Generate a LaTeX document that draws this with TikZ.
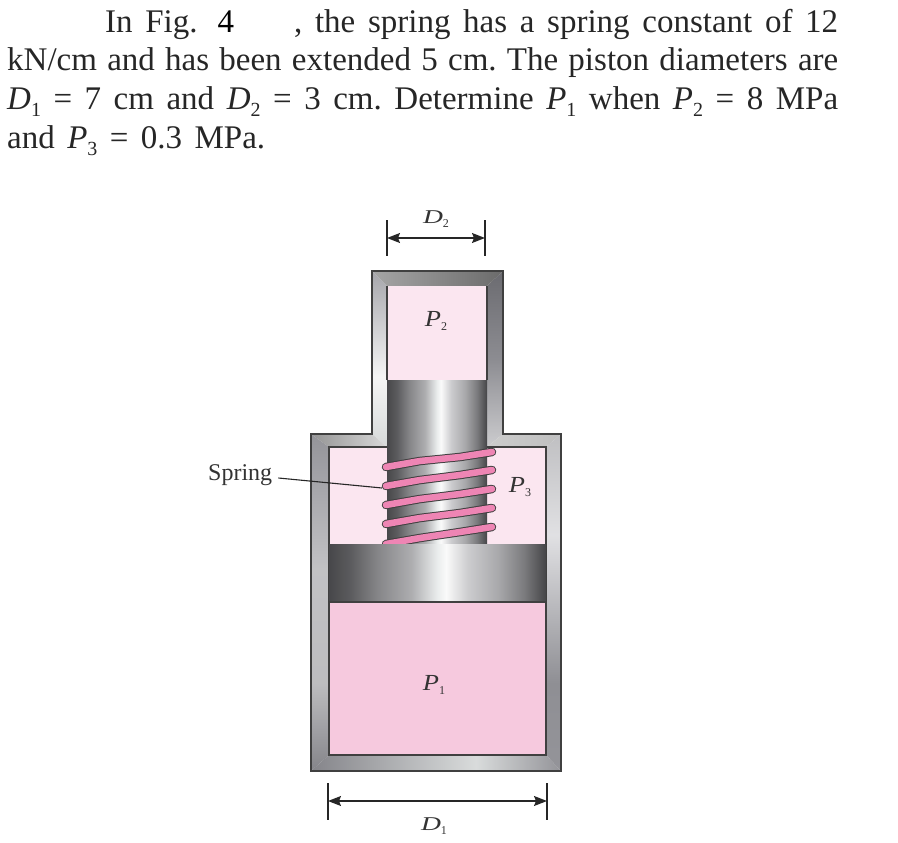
\documentclass[tikz,border=0pt]{standalone}
\usepackage{fontspec}
\setmainfont{Liberation Serif}
\usetikzlibrary{arrows.meta}
\frenchspacing
\newcommand{\sbb}[1]{\raisebox{-7pt}{\fontsize{20}{20}\selectfont #1}}
\newcommand{\dsub}[1]{\raisebox{-4.5pt}{\fontsize{12}{12}\selectfont\upshape #1}}
\newcommand{\mainfs}{\fontsize{33}{38}\selectfont}
\pgfdeclarehorizontalshading{metal}{100bp}{rgb(0bp)=(.28,.28,.29);rgb(25bp)=(.28,.28,.29);rgb(30bp)=(.36,.36,.37);rgb(36bp)=(.52,.52,.53);rgb(44bp)=(.68,.68,.69);rgb(50bp)=(.92,.93,.93);rgb(52bp)=(.98,.98,.98);rgb(57bp)=(.8,.8,.81);rgb(64bp)=(.66,.66,.67);rgb(70bp)=(.48,.48,.49);rgb(75bp)=(.27,.27,.28);rgb(100bp)=(.27,.27,.28)}
\pgfdeclareverticalshading{nl}{100bp}{rgb(0bp)=(.84,.85,.85);rgb(25bp)=(.84,.85,.85);rgb(45bp)=(.96,.96,.96);rgb(75bp)=(.65,.65,.67);rgb(100bp)=(.65,.65,.67)}
\pgfdeclareverticalshading{nr}{100bp}{rgb(0bp)=(.8,.8,.81);rgb(25bp)=(.8,.8,.81);rgb(50bp)=(.55,.55,.57);rgb(75bp)=(.42,.42,.44);rgb(100bp)=(.42,.42,.44)}
\pgfdeclareverticalshading{cl}{100bp}{rgb(0bp)=(.52,.52,.54);rgb(25bp)=(.52,.52,.54);rgb(38bp)=(.74,.74,.75);rgb(55bp)=(.76,.76,.77);rgb(75bp)=(.58,.58,.6);rgb(100bp)=(.58,.58,.6)}
\pgfdeclareverticalshading{cr}{100bp}{rgb(0bp)=(.58,.58,.6);rgb(25bp)=(.58,.58,.6);rgb(38bp)=(.56,.56,.58);rgb(60bp)=(.88,.88,.89);rgb(75bp)=(.75,.75,.76);rgb(100bp)=(.75,.75,.76)}
\pgfdeclarehorizontalshading{cb}{100bp}{rgb(0bp)=(.52,.52,.54);rgb(25bp)=(.52,.52,.54);rgb(58bp)=(.85,.86,.86);rgb(75bp)=(.58,.58,.6);rgb(100bp)=(.58,.58,.6)}
\tikzset{
  txt/.style={inner sep=0pt,anchor=base west,text=black!85},
  lbl/.style={inner sep=0pt,text=black!80,font=\fontsize{23}{23}\selectfont\itshape},
  dimline/.style={draw=black!85,line width=1.3pt},
  dimarrow/.style={draw=black!85,line width=1.3pt,{Stealth[length=13pt,width=10pt,inset=2pt]}-{Stealth[length=13pt,width=10pt,inset=2pt]}},
  outl/.style={draw=black!75,line width=1.3pt},
  inl/.style={draw=black!75,line width=1.2pt},
  coilo/.style={draw=black!75,line width=8.5pt,line cap=round},
  coili/.style={draw=coilpink,line width=6.5pt,line cap=round},
}
\definecolor{lightpink}{HTML}{FBE6F0}
\definecolor{midpink}{HTML}{F6C9DE}
\definecolor{coilpink}{HTML}{EE85B4}
\begin{document}
\begin{tikzpicture}[x=1pt,y=-1pt]
\path[use as bounding box] (0,0) rectangle (898,843);
% text
\node[txt] (l1) at (105,33) {\mainfs\hbox to 733pt{In Fig.\hskip 20pt \textcolor{black}{4}\hskip 60pt, the spring has a spring constant of 12}};
\node[txt] (l2) at (7,71) {\mainfs\hbox to 831pt{kN/cm and has been extended 5 cm. The piston diameters are}};
\node[txt] (l3) at (7,110) {\mainfs\hbox to 831pt{\textit{D}\sbb{1} = 7 cm and \textit{D}\sbb{2} = 3 cm. Determine \textit{P}\sbb{1} when \textit{P}\sbb{2} = 8 MPa}};
\node[txt] (l4) at (7,149) {\mainfs\hbox to 258pt{and \textit{P}\sbb{3} = 0.3 MPa.}};
% walls
\shade[shading=nl] (372,271) -- (387,286) -- (387,447) -- (372,434) -- cycle;
\shade[shading=nr] (503,271) -- (487,286) -- (487,447) -- (503,434) -- cycle;
\shade[left color=black!35,right color=black!58] (372,271) -- (503,271) -- (487,286) -- (387,286) -- cycle;
\shade[left color=black!42,right color=black!15] (311,434) -- (372,434) -- (387,447) -- (329,447) -- cycle;
\shade[left color=black!20,right color=black!25] (503,434) -- (561,434) -- (546,447) -- (487,447) -- cycle;
\shade[shading=cl] (311,434) -- (329,447) -- (329,755) -- (311,771) -- cycle;
\shade[shading=cr] (561,434) -- (546,447) -- (546,755) -- (561,771) -- cycle;
\shade[shading=cb] (311,771) -- (329,755) -- (546,755) -- (561,771) -- cycle;
\draw[outl] (372,271) -- (503,271) -- (503,434) -- (561,434) -- (561,771) -- (311,771) -- (311,434) -- (372,434) -- cycle;
% fluid
\fill[lightpink] (387,286) rectangle (487,381);
\fill[lightpink] (329,447) rectangle (546,544);
\fill[midpink] (329,602) rectangle (546,755);
\draw[inl] (387,380) -- (387,286);
\draw[inl] (487,286) -- (487,380);
\draw[inl] (387,447) -- (329,447) -- (329,755) -- (546,755) -- (546,447) -- (487,447);
% rod
\shade[shading=metal] (387,380) rectangle (487,544);
% spring
\foreach \ya/\yb in {467/452,486/470,505/489,524/508,544/527}{
  \draw[coilo] (386,\ya) -- (420,\ya-6) -- (460,\yb+5) -- (492,\yb);
  \draw[coili] (386,\ya) -- (420,\ya-6) -- (460,\yb+5) -- (492,\yb);
}
% piston
\shade[shading=metal] (329,544) rectangle (546,602);
\draw[inl] (329,602) -- (546,602);
% labels
\node[lbl] (p2) at (436,321) {\scalebox{1.15}[1]{P}\dsub{2}};
\node[lbl] (p3) at (520,487) {\scalebox{1.15}[1]{P}\dsub{3}};
\node[lbl] (p1) at (434,685) {\scalebox{1.15}[1]{P}\dsub{1}};
\node[lbl] (d2) at (436,219) {\scalebox{1.2}[.85]{D}\dsub{2}};
\node[lbl] (d1) at (434,826) {\scalebox{1.2}[.85]{D}\dsub{1}};
\node[inner sep=0pt,anchor=west,text=black!80,font=\fontsize{24}{24}\selectfont] (spr) at (208,475) {Spring};
\coordinate (coil) at (382,488);
\draw[draw=black!85,line width=1.1pt] (spr.east)+(6,3) -- (coil);
% dimensions
\coordinate (t2a) at (387,220); \coordinate (t2b) at (387,256);
\coordinate (t2c) at (485,220); \coordinate (t2d) at (485,256);
\coordinate (a2l) at (387,238); \coordinate (a2r) at (485,238);
\draw[dimline] (t2a) -- (t2b);
\draw[dimline] (t2c) -- (t2d);
\draw[dimarrow] (a2l) -- (a2r);
\coordinate (t1a) at (328,783); \coordinate (t1b) at (328,820);
\coordinate (t1c) at (547,783); \coordinate (t1d) at (547,820);
\coordinate (a1l) at (328,801); \coordinate (a1r) at (547,801);
\draw[dimline] (t1a) -- (t1b);
\draw[dimline] (t1c) -- (t1d);
\draw[dimarrow] (a1l) -- (a1r);
\end{tikzpicture}
\end{document}
